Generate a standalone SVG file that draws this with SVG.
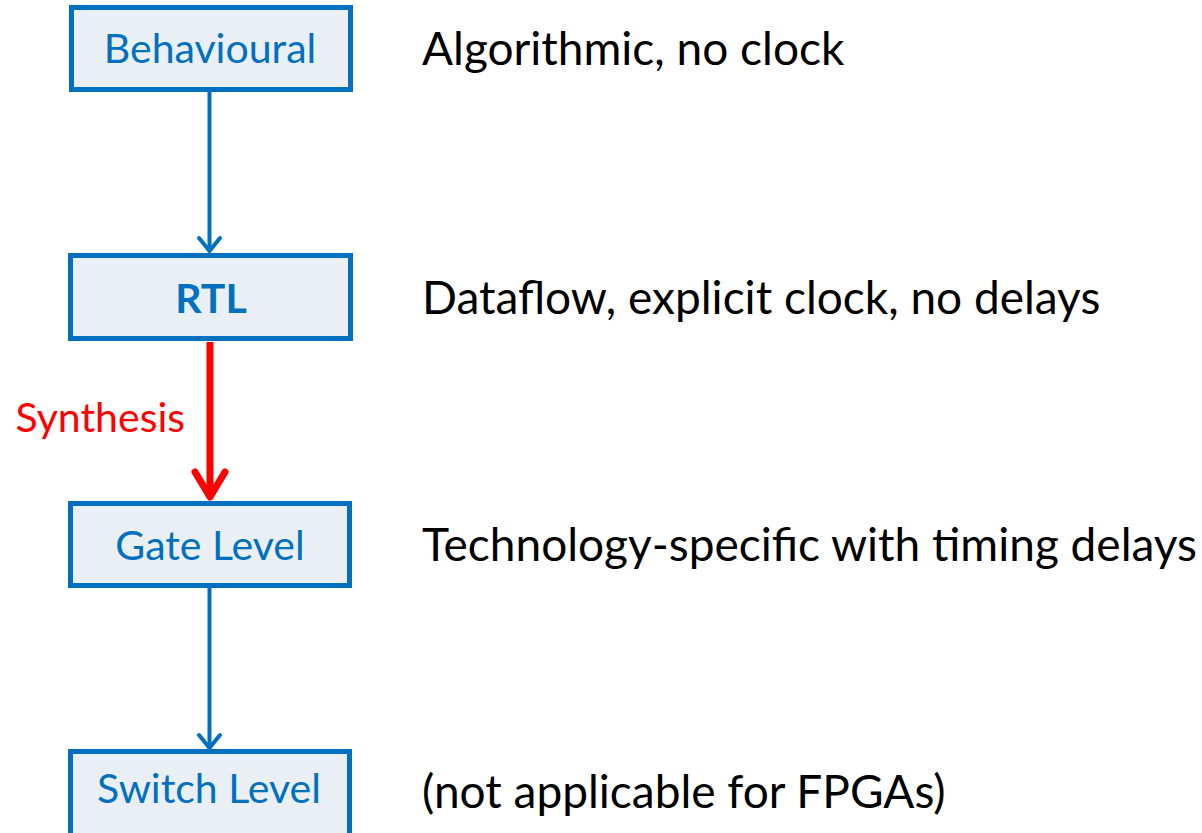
<svg xmlns="http://www.w3.org/2000/svg" width="1202" height="833" viewBox="0 0 1202 833">
<style>
.box{fill:#E9EFF4;stroke:#0070C0;stroke-width:5}
.lbl{font-family:Lato,"Liberation Sans",sans-serif;font-size:41px;fill:#0070C0;text-anchor:middle}
.desc{font-family:Lato,"Liberation Sans",sans-serif;font-size:46px;fill:#000}
.blue{stroke:#0070C0;stroke-width:4;fill:none}
.red{stroke:#FF0000;stroke-width:7;fill:none}
</style>
<rect width="1202" height="833" fill="#fff"/>
<g id="connectors">
<line class="blue" x1="209.5" y1="92" x2="209.5" y2="250"/>
<polyline class="blue" points="199,238 209.5,251 220,238" stroke-linecap="round" stroke-linejoin="round"/>
<line class="red" x1="210" y1="342" x2="210" y2="498"/>
<polyline class="red" points="195,472 210,497 225,472" stroke-width="8" stroke-linecap="round" stroke-linejoin="round"/>
<text x="185" y="432" font-family="Lato,'Liberation Sans',sans-serif" font-size="41" fill="#FF0000" text-anchor="end">Synthesis</text>
<line class="blue" x1="209.5" y1="588" x2="209.5" y2="747"/>
<polyline class="blue" points="199,735 209.5,748 220,735" stroke-linecap="round" stroke-linejoin="round"/>
</g>
<g id="behavioural">
<rect class="box" x="71.5" y="7.5" width="279" height="82"/>
<text class="lbl" x="210" y="63" font-size="42">Behavioural</text>
</g>
<g id="rtl">
<rect class="box" x="70.5" y="255.5" width="280" height="83" stroke-width="7"/>
<text class="lbl" x="211" y="313" font-weight="bold">RTL</text>
</g>
<g id="gate">
<rect class="box" x="70.5" y="503.5" width="279" height="82"/>
<text class="lbl" x="210" y="560">Gate Level</text>
</g>
<g id="switch">
<rect class="box" x="70.5" y="751.5" width="279" height="85"/>
<text class="lbl" x="209" y="803">Switch Level</text>
</g>
<g id="descriptions">
<text class="desc" x="422" y="65">Algorithmic, no clock</text>
<text class="desc" x="422" y="314" font-size="45.5">Dataflow, explicit clock, no delays</text>
<text class="desc" x="422" y="561" font-size="45.8">Technology-specific with timing delays</text>
<text class="desc" x="422" y="808">(not applicable for FPGAs)</text>
</g>
</svg>
